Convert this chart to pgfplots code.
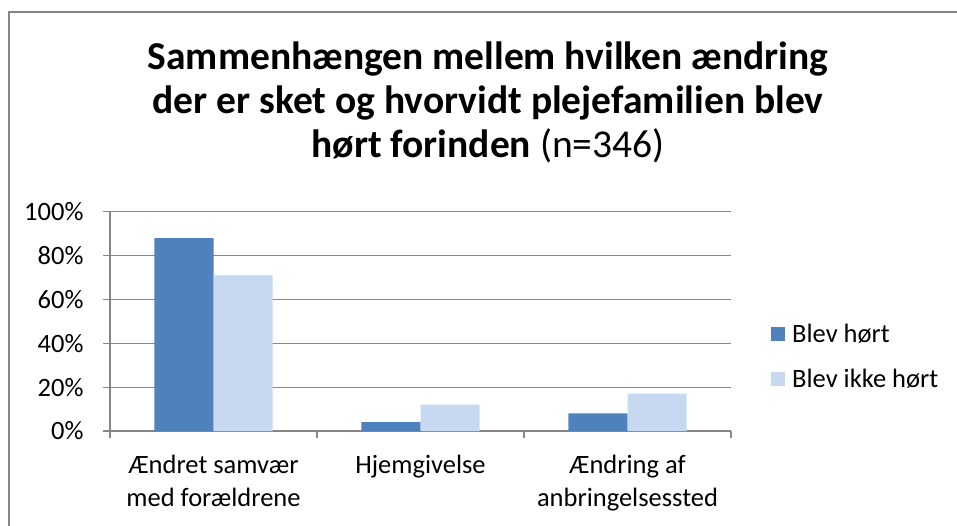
\documentclass[border=0pt]{standalone}
\usepackage{pgfplots}
\pgfplotsset{compat=1.18}
\usepackage{fontspec}
\setmainfont{Carlito}
\definecolor{dblue}{RGB}{79,129,189}
\definecolor{lblue}{RGB}{198,217,241}
\definecolor{gridgray}{RGB}{134,134,134}
\begin{document}
\begin{tikzpicture}[x=1pt,y=1pt]
\useasboundingbox (0,0) rectangle (957,525);
\draw[gridgray, line width=1.5pt] (9,-10) -- (9,513) -- (975,513);
\node[align=center, font=\fontsize{39.5}{44}\selectfont, inner sep=0pt] at (488,423) {\textbf{Sammenhængen mellem hvilken ændring}\\\textbf{der er sket og hvorvidt plejefamilien blev}\\\textbf{hørt forinden} (n=346)};
\begin{axis}[
  at={(110pt,94pt)}, anchor=south west,
  scale only axis, width=621pt, height=219.3pt,
  ybar=0pt, bar width=0.2857,
  ymin=0, ymax=100, xmin=-0.5, xmax=2.5,
  enlarge x limits=false,
  axis x line*=bottom, axis y line*=left,
  axis line style={gridgray, line width=1.2pt},
  ytick={0,20,40,60,80,100},
  yticklabel={\pgfmathprintnumber{\tick}\%},
  ymajorgrids, grid style={gridgray, line width=1.2pt},
  xtick={0,1,2},
  xticklabels={{Ændret samvær\\med forældrene},{Hjemgivelse},{Ændring af\\anbringelsessted}},
  minor xtick={-0.5,0.5,1.5,2.5},
  major x tick style={draw=none},
  tick align=outside, major tick length=7pt, minor tick length=7pt,
  tick style={gridgray, line width=1.2pt},
  ticklabel style={font=\fontsize{26.5}{33}\selectfont},
  x tick label style={align=center, yshift=-14pt},
  y tick label style={xshift=-16pt},
  /pgf/number format/assume math mode=true,
  legend cell align=left,
  legend style={at={(1,0.34)}, anchor=west, xshift=40pt, draw=none, fill=none,
    font=\fontsize{26.5}{33}\selectfont, row sep=19pt, inner sep=0pt,
    nodes={inner sep=3pt}, column sep=4pt},
  legend image code/.code={\fill[#1, draw=none] (0pt,-7pt) rectangle (14pt,7pt);},
]
\addplot[fill=dblue, draw=none] coordinates {(0,88) (1,4) (2,8)};
\addplot[fill=lblue, draw=none] coordinates {(0,71) (1,12) (2,17)};
\legend{Blev hørt, Blev ikke hørt}
\end{axis}
\end{tikzpicture}
\end{document}
